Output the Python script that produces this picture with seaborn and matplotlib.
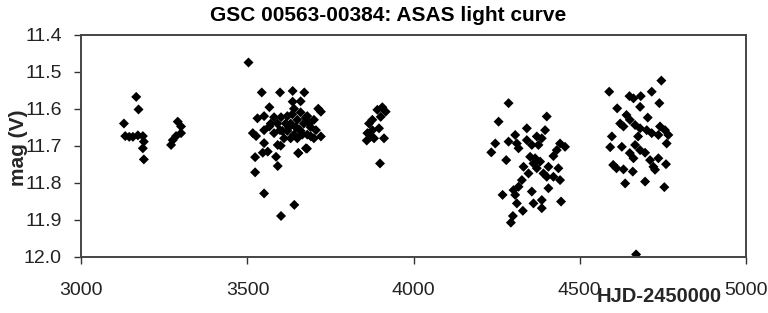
import matplotlib
matplotlib.use("Agg")
import matplotlib.pyplot as plt
import numpy as np
import pandas as pd
import seaborn as sns

# ASAS photometry, HJD-2450000 vs V magnitude, one pair of lists per season
s1_hjd = [3165, 3172, 3128, 3132, 3144, 3155, 3170, 3185, 3188, 3185, 3188]
s1_mag = [11.568, 11.602, 11.640, 11.674, 11.676, 11.676, 11.672, 11.674, 11.689, 11.707, 11.737]

s2_hjd = [3290, 3300, 3300, 3285, 3275, 3270]
s2_mag = [11.635, 11.648, 11.666, 11.674, 11.685, 11.698]

s3_hjd = [3503, 3543, 3598, 3636, 3671, 3636, 3713, 3721, 3566, 3530, 3550, 3580, 3601,
          3516, 3526, 3550, 3566, 3580, 3598, 3550, 3546, 3561, 3591, 3586, 3523, 3591,
          3523, 3653, 3679, 3550, 3641, 3601, 3706, 3721, 3691, 3676, 3653,
          3620, 3640, 3660, 3680, 3700, 3630, 3650, 3670, 3690, 3620, 3640, 3660,
          3680, 3700, 3610, 3630, 3650, 3600, 3590, 3660, 3645, 3665,
          3625, 3655, 3675, 3635, 3615, 3685, 3605, 3570]
s3_mag = [11.475, 11.556, 11.556, 11.552, 11.556, 11.581, 11.600, 11.608, 11.596, 11.626, 11.620, 11.623, 11.623,
          11.666, 11.674, 11.658, 11.648, 11.666, 11.658, 11.693, 11.719, 11.716, 11.698, 11.730, 11.731, 11.755,
          11.772, 11.720, 11.708, 11.829, 11.860, 11.890, 11.658, 11.675, 11.675, 11.707, 11.720,
          11.620, 11.600, 11.610, 11.620, 11.630, 11.640, 11.630, 11.640, 11.650, 11.660, 11.670, 11.660,
          11.670, 11.680, 11.680, 11.680, 11.680, 11.700, 11.640, 11.580, 11.650, 11.670,
          11.650, 11.655, 11.625, 11.615, 11.640, 11.640, 11.660, 11.640]

s4_hjd = [3906, 3891, 3916, 3901, 3876, 3866, 3896, 3876, 3861, 3871, 3911, 3859, 3881, 3899]
s4_mag = [11.596, 11.603, 11.608, 11.622, 11.630, 11.640, 11.653, 11.658, 11.666, 11.675, 11.680, 11.686, 11.680, 11.748]

s5_hjd = [4286, 4256, 4401, 4246, 4234, 4279, 4286, 4306, 4341, 4396, 4311, 4316, 4341, 4371,
          4386, 4356, 4376, 4441, 4456, 4431, 4421, 4351, 4366, 4381, 4361, 4371, 4331, 4406,
          4436, 4346, 4391, 4441, 4326, 4316, 4406, 4301, 4356, 4268, 4306, 4386, 4361, 4444,
          4386, 4329, 4299, 4293, 4311, 4401, 4421]
s5_mag = [11.585, 11.635, 11.621, 11.694, 11.718, 11.739, 11.689, 11.671, 11.653, 11.658, 11.694, 11.707, 11.685, 11.675,
          11.680, 11.698, 11.698, 11.694, 11.703, 11.712, 11.728, 11.730, 11.734, 11.743, 11.748, 11.761, 11.757, 11.757,
          11.761, 11.775, 11.775, 11.793, 11.793, 11.811, 11.815, 11.820, 11.824, 11.833, 11.833, 11.847, 11.856, 11.851,
          11.869, 11.876, 11.890, 11.908, 11.856, 11.784, 11.784]

s6_hjd = [4746, 4589, 4650, 4662, 4684, 4717, 4613, 4682, 4740, 4705, 4641, 4651, 4622, 4632,
          4667, 4682, 4702, 4717, 4742, 4757, 4767, 4762, 4737, 4676, 4597, 4592, 4627, 4667,
          4682, 4651, 4662, 4697, 4712, 4737, 4760, 4601, 4611, 4632, 4660, 4727, 4722, 4637,
          4697, 4755, 4670]
s6_mag = [11.524, 11.554, 11.566, 11.572, 11.566, 11.554, 11.599, 11.595, 11.585, 11.624, 11.617, 11.630, 11.640, 11.648,
          11.644, 11.653, 11.658, 11.666, 11.648, 11.658, 11.671, 11.694, 11.671, 11.675, 11.675, 11.704, 11.703, 11.698,
          11.712, 11.720, 11.734, 11.719, 11.739, 11.734, 11.750, 11.752, 11.761, 11.764, 11.770, 11.765, 11.757, 11.802,
          11.797, 11.812, 11.994]

x_ticks = [3000, 3500, 4000, 4500, 5000]
y_ticks = [11.4, 11.5, 11.6, 11.7, 11.8, 11.9, 12.0]

df = pd.DataFrame({
    "hjd": s1_hjd + s2_hjd + s3_hjd + s4_hjd + s5_hjd + s6_hjd,
    "mag": s1_mag + s2_mag + s3_mag + s4_mag + s5_mag + s6_mag,
})

sns.set_style("white")
plt.rcParams["font.family"] = ["Liberation Sans", "DejaVu Sans"]

fig = plt.figure(figsize=(7.68, 3.13), dpi=100)
ax = fig.add_axes([0.106, 0.180, 0.865, 0.709])
sns.scatterplot(data=df, x="hjd", y="mag", marker="D", s=26, color="black",
                edgecolor="none", linewidth=0, ax=ax)

ax.set_xlim(3000, 5000)
ax.set_ylim(12.0, 11.4)
ax.set_xticks(x_ticks)
ax.set_yticks(y_ticks)
ax.set_yticklabels([f"{v:.1f}" for v in y_ticks])
ax.tick_params(axis="both", direction="out", length=5, width=1, color="#333333",
               labelsize=14, labelcolor="#222222", bottom=True, left=True)
ax.tick_params(axis="x", pad=13)
ax.tick_params(axis="y", pad=9)
for sp in ax.spines.values():
    sp.set_color("#444444")
    sp.set_linewidth(1.4)

# the title sits a little left of the axes centre, as in the original
ax.set_title("GSC 00563-00384: ASAS light curve", fontsize=15, fontweight="bold",
             color="black", pad=10, x=0.462)
ax.set_ylabel("mag (V)", fontsize=15, fontweight="bold")
ax.yaxis.set_label_coords(-0.08, 0.49)
ax.set_xlabel("HJD-2450000", fontsize=14.5, fontweight="bold")
ax.xaxis.set_label_coords(0.869, -0.136)

fig.savefig("out.png", dpi=100)
